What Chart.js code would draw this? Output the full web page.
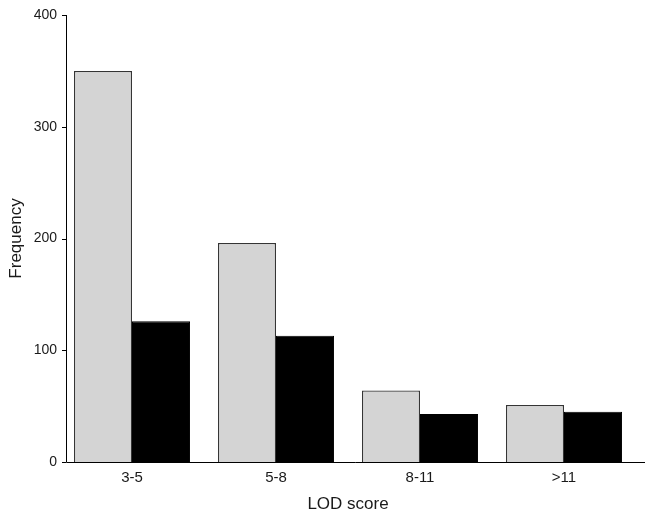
<!DOCTYPE html>
<html lang="en">
<head>
    <meta charset="UTF-8">
    <title>LOD score frequency</title>
    <script src="https://cdn.jsdelivr.net/npm/chart.js"></script>
    <style>
        html, body { margin: 0; padding: 0; background: #fff; }
        #wrap { width: 654px; height: 515px; }
    </style>
</head>
<body>
    <div id="wrap"><canvas id="chart"></canvas></div>
    <script>
        // values
        const categories = ['3-5', '5-8', '8-11', '>11'];
        const greySeries = [350, 196, 64, 51];
        const blackSeries = [126, 113, 43, 45];
        const yTicks = [0, 100, 200, 300, 400];

        const family = "'Liberation Sans', Arial, sans-serif";
        const textColor = '#1a1a1a';

        // axis lines sit a little inside the plot box, the x line runs past the last bar
        const axisInset = 6;
        const xLineOverrun = 9;
        const tickLen = 4;

        const axesPlugin = {
            id: 'axes',
            afterDatasetsDraw(chart) {
                const ctx = chart.ctx;
                const area = chart.chartArea;
                const y = chart.scales.y;
                const x0 = area.left + axisInset;
                ctx.save();
                ctx.strokeStyle = '#000';
                ctx.lineWidth = 1;
                ctx.beginPath();
                ctx.moveTo(x0 + 0.5, area.top);
                ctx.lineTo(x0 + 0.5, area.bottom + 0.5);
                ctx.lineTo(area.right + xLineOverrun, area.bottom + 0.5);
                y.ticks.forEach(t => {
                    const py = Math.round(y.getPixelForValue(t.value)) + 0.5;
                    ctx.moveTo(x0 - tickLen, py);
                    ctx.lineTo(x0, py);
                });
                ctx.stroke();
                ctx.restore();
            }
        };

        new Chart(document.getElementById('chart').getContext('2d'), {
            type: 'bar',
            data: {
                labels: categories,
                datasets: [{
                    data: greySeries,
                    backgroundColor: '#d4d4d4',
                    borderColor: '#353535',
                    borderWidth: 1.3
                }, {
                    data: blackSeries,
                    backgroundColor: '#000',
                    borderColor: '#000',
                    borderWidth: 1
                }]
            },
            options: {
                responsive: true,
                maintainAspectRatio: false,
                animation: false,
                datasets: { bar: { barPercentage: 1, categoryPercentage: 0.806 } },
                layout: { padding: { top: 15, right: 18, bottom: 0, left: 0 } },
                plugins: { legend: { display: false }, tooltip: { enabled: false } },
                scales: {
                    x: {
                        grid: { display: false, drawTicks: false },
                        border: { display: false },
                        ticks: { color: textColor, font: { family: family, size: 15 }, padding: 7 },
                        title: { display: true, text: 'LOD score', color: textColor, font: { family: family, size: 17 }, padding: { top: 4, bottom: 0 } },
                        afterFit: (s) => { s.height = 53; }
                    },
                    y: {
                        min: 0,
                        max: 400,
                        afterBuildTicks: (s) => { s.ticks = yTicks.map(v => ({ value: v })); },
                        grid: { display: false, drawTicks: false },
                        border: { display: false },
                        ticks: { color: textColor, font: { family: family, size: 14 }, padding: 3 },
                        title: { display: true, text: 'Frequency', color: textColor, font: { family: family, size: 17 }, padding: { top: 6, bottom: 0 } },
                        afterFit: (s) => { s.width = 60; }
                    }
                }
            },
            plugins: [axesPlugin]
        });
    </script>
</body>
</html>
